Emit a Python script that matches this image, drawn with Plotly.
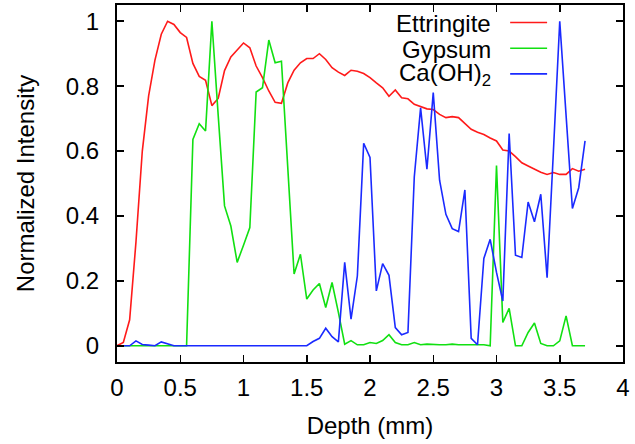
import plotly.graph_objects as go

depth = [0.0, 0.05, 0.1, 0.15, 0.2, 0.25, 0.3, 0.35, 0.4, 0.45,
         0.5, 0.55, 0.6, 0.65, 0.7, 0.75, 0.8, 0.85, 0.9, 0.95,
         1.0, 1.05, 1.1, 1.15, 1.2, 1.25, 1.3, 1.35, 1.4, 1.45,
         1.5, 1.55, 1.6, 1.65, 1.7, 1.75, 1.8, 1.85, 1.9, 1.95,
         2.0, 2.05, 2.1, 2.15, 2.2, 2.25, 2.3, 2.35, 2.4, 2.45,
         2.5, 2.55, 2.6, 2.65, 2.7, 2.75, 2.8, 2.85, 2.9, 2.95,
         3.0, 3.05, 3.1, 3.15, 3.2, 3.25, 3.3, 3.35, 3.4, 3.45,
         3.5, 3.55, 3.6, 3.65, 3.7]

ettringite = [0.0, 0.01, 0.08, 0.32, 0.6, 0.77, 0.88, 0.96, 1.0, 0.99,
              0.965, 0.95, 0.87, 0.83, 0.818, 0.74, 0.762, 0.848, 0.89, 0.912,
              0.933, 0.918, 0.862, 0.826, 0.785, 0.75, 0.747, 0.81, 0.849, 0.872,
              0.885, 0.885, 0.9, 0.882, 0.857, 0.843, 0.833, 0.849, 0.846, 0.839,
              0.826, 0.81, 0.795, 0.769, 0.788, 0.764, 0.761, 0.744, 0.736, 0.73,
              0.728, 0.713, 0.703, 0.706, 0.703, 0.685, 0.667, 0.658, 0.651, 0.64,
              0.631, 0.603, 0.6, 0.583, 0.564, 0.554, 0.544, 0.535, 0.528, 0.534,
              0.528, 0.528, 0.546, 0.538, 0.544]

gypsum = [0.0, 0.0, 0.0, 0.0, 0.0, 0.0, 0.0, 0.0, 0.0, 0.0,
          0.0, 0.0, 0.636, 0.684, 0.662, 1.0, 0.71, 0.431, 0.369, 0.257,
          0.31, 0.364, 0.782, 0.795, 0.942, 0.872, 0.877, 0.55, 0.221, 0.282,
          0.144, 0.172, 0.192, 0.118, 0.195, 0.103, 0.005, 0.016, 0.003, 0.003,
          0.01, 0.007, 0.016, 0.034, 0.01, 0.003, 0.003, 0.01, 0.003, 0.005,
          0.003, 0.003, 0.003, 0.005, 0.003, 0.003, 0.002, 0.003, 0.003, 0.0,
          0.555, 0.072, 0.115, 0.0, 0.0, 0.041, 0.07, 0.007, 0.0, 0.0,
          0.015, 0.092, 0.0, 0.0, 0.0]

caoh2 = [0.0, 0.0, 0.0, 0.015, 0.004, 0.002, 0.0, 0.012, 0.007, 0.0,
         0.0, 0.0, 0.0, 0.0, 0.0, 0.0, 0.0, 0.0, 0.0, 0.0,
         0.0, 0.0, 0.0, 0.0, 0.0, 0.0, 0.0, 0.0, 0.0, 0.0,
         0.0, 0.013, 0.023, 0.054, 0.028, 0.012, 0.257, 0.082, 0.215, 0.624,
         0.58, 0.169, 0.253, 0.217, 0.056, 0.034, 0.041, 0.52, 0.733, 0.544,
         0.78, 0.51, 0.405, 0.361, 0.352, 0.48, 0.023, 0.003, 0.269, 0.328,
         0.226, 0.138, 0.654, 0.279, 0.272, 0.443, 0.382, 0.467, 0.21, 0.6,
         1.0, 0.71, 0.423, 0.487, 0.631]

series_names = ["Ettringite", "Gypsum", "Ca(OH)<sub>2</sub>"]
series_colors = ["#ff1a1a", "#11e011", "#1a2aff"]
series_values = [ettringite, gypsum, caoh2]

x_ticks = [0, 0.5, 1, 1.5, 2, 2.5, 3, 3.5, 4]
x_tick_labels = ["0", "0.5", "1", "1.5", "2", "2.5", "3", "3.5", "4"]
y_ticks = [0, 0.2, 0.4, 0.6, 0.8, 1]
y_tick_labels = ["0", "0.2", "0.4", "0.6", "0.8", "1"]

FONT = "Liberation Sans, Arial, Helvetica, sans-serif"

fig = go.Figure()
for name, color, vals in zip(series_names, series_colors, series_values):
    fig.add_trace(go.Scatter(x=depth, y=vals, mode="lines", name=name,
                             line=dict(color=color, width=1.6),
                             showlegend=False))

# gnuplot-style legend: text right-aligned, line sample to the right
legend_y = [0.951, 0.879, 0.807]
for name, color, ly in zip(series_names, series_colors, legend_y):
    fig.add_annotation(x=0.743, y=ly, xref="paper", yref="paper",
                       text=name, showarrow=False, xanchor="right",
                       yanchor="middle", yshift=-1,
                       font=dict(family=FONT, size=24, color="black"))
    fig.add_shape(type="line", xref="paper", yref="paper",
                  x0=0.777, x1=0.850, y0=ly, y1=ly,
                  line=dict(color=color, width=1.6))

axis_common = dict(showline=True, linecolor="black", linewidth=2,
                   mirror="ticks", ticks="inside", ticklen=7,
                   tickwidth=1.5, tickcolor="black", showgrid=False,
                   zeroline=False, automargin=False,
                   tickfont=dict(family=FONT, size=24, color="black"))

fig.update_xaxes(range=[0, 4], tickvals=x_ticks, ticktext=x_tick_labels,
                 title=dict(text="Depth (mm)", standoff=17,
                            font=dict(family=FONT, size=24, color="black")),
                 ticklabelstandoff=3,
                 **axis_common)
fig.update_yaxes(range=[-0.05, 1.05], tickvals=y_ticks, ticktext=y_tick_labels,
                 title=dict(text="Normalized Intensity", standoff=24,
                            font=dict(family=FONT, size=24, color="black")),
                 ticklabelstandoff=11,
                 **axis_common)

fig.update_layout(width=635, height=444, autosize=False,
                  margin=dict(l=117, r=12, t=5, b=82, pad=0),
                  paper_bgcolor="white", plot_bgcolor="white")

fig.write_html("out.html",
               config={"displayModeBar": False, "staticPlot": True},
               post_script="document.body.style.margin='0';"
                           "document.body.style.overflow='hidden';")
